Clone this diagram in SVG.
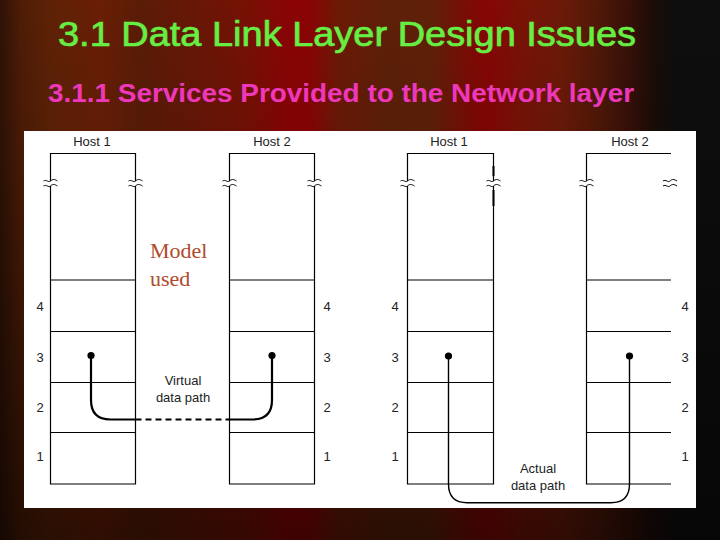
<svg xmlns="http://www.w3.org/2000/svg" xmlns:xlink="http://www.w3.org/1999/xlink" width="720" height="540" viewBox="0 0 720 540">
  <defs>
    <linearGradient id="curtain" gradientUnits="userSpaceOnUse" x1="0" y1="0" x2="720" y2="0">
      <stop offset="0" stop-color="#2e1206"/>
      <stop offset="0.028" stop-color="#4e1c06"/>
      <stop offset="0.07" stop-color="#5e2206"/>
      <stop offset="0.14" stop-color="#6a1e05"/>
      <stop offset="0.195" stop-color="#5a1c06"/>
      <stop offset="0.28" stop-color="#6a1606"/>
      <stop offset="0.335" stop-color="#741204"/>
      <stop offset="0.4" stop-color="#8a0404"/>
      <stop offset="0.43" stop-color="#8a0404"/>
      <stop offset="0.47" stop-color="#6c1a06"/>
      <stop offset="0.54" stop-color="#5e2008"/>
      <stop offset="0.6" stop-color="#602008"/>
      <stop offset="0.655" stop-color="#7e0a04"/>
      <stop offset="0.68" stop-color="#860604"/>
      <stop offset="0.72" stop-color="#7a1206"/>
      <stop offset="0.78" stop-color="#6c1a08"/>
      <stop offset="0.835" stop-color="#4e1808"/>
      <stop offset="0.875" stop-color="#361008"/>
      <stop offset="0.91" stop-color="#1a0c08"/>
      <stop offset="0.94" stop-color="#0e0e0e"/>
      <stop offset="1" stop-color="#0e0e0e"/>
    </linearGradient>
    <linearGradient id="shade" x1="0" y1="0" x2="0" y2="1">
      <stop offset="0" stop-color="#000" stop-opacity="0"/>
      <stop offset="0.25" stop-color="#000" stop-opacity="0.08"/>
      <stop offset="1" stop-color="#000" stop-opacity="0.55"/>
    </linearGradient>
    <path id="brk" d="M-7,-2 C-4,-4 -2,0 0,-2 S4,-4 7,-2 M-7,3 C-4,1 -2,5 0,3 S4,1 7,3"/>
  </defs>
  <style>
    .title { font-family: "Liberation Sans", Arial, sans-serif; font-size: 35px; fill: #66ee44; stroke: #66ee44; stroke-width: 0.7; }
    .sub { font-family: "Liberation Sans", Arial, sans-serif; font-size: 25px; font-weight: bold; fill: #ee38bc; }
    .box { fill: none; stroke: #000; stroke-width: 1.2; }
    .brk { fill: none; stroke: #000; stroke-width: 1; }
    .lbl { font-family: "Liberation Sans", Arial, sans-serif; font-size: 13px; fill: #222; text-anchor: middle; }
    .num { font-family: "Liberation Sans", Arial, sans-serif; font-size: 13px; fill: #222; text-anchor: middle; }
    .model { font-family: "Liberation Serif", "Times New Roman", serif; font-size: 22px; fill: #b04a2c; }
    .dot { fill: #000; }
  </style>

  <rect x="0" y="0" width="720" height="540" fill="url(#curtain)"/>
  <rect x="0" y="0" width="720" height="540" fill="url(#shade)"/>

  <text class="title" x="58" y="46" textLength="578" lengthAdjust="spacingAndGlyphs">3.1 Data Link Layer Design Issues</text>
  <text class="sub" x="48" y="102" textLength="586" lengthAdjust="spacingAndGlyphs">3.1.1 Services Provided to the Network layer</text>

  <rect x="24" y="131" width="672" height="377" fill="#ffffff"/>

  <!-- Model 1: Virtual data path -->
  <g id="host1-left">
    <text class="lbl" x="92" y="146">Host 1</text>
    <path class="box" d="M50.5,181 V153.5 H135.5 V181 M50.5,186 V484 H135.5 V186 M50.5,280 H135.5 M50.5,331.5 H135.5 M50.5,382.5 H135.5 M50.5,432.5 H135.5"/>
    <use href="#brk" xlink:href="#brk" class="brk" x="50.5" y="183"/>
    <use href="#brk" xlink:href="#brk" class="brk" x="135.5" y="183"/>
    <text class="num" x="40" y="311">4</text>
    <text class="num" x="40" y="361.5">3</text>
    <text class="num" x="40" y="412">2</text>
    <text class="num" x="40" y="461">1</text>
    <circle class="dot" cx="91" cy="355.5" r="3.6"/>
  </g>

  <g id="host2-left">
    <text class="lbl" x="272" y="146">Host 2</text>
    <path class="box" d="M229.5,181 V153.5 H314.5 V181 M229.5,186 V484 H314.5 V186 M229.5,280 H314.5 M229.5,331.5 H314.5 M229.5,382.5 H314.5 M229.5,432.5 H314.5"/>
    <use href="#brk" xlink:href="#brk" class="brk" x="229.5" y="183"/>
    <use href="#brk" xlink:href="#brk" class="brk" x="314.5" y="183"/>
    <text class="num" x="327" y="311">4</text>
    <text class="num" x="327" y="361.5">3</text>
    <text class="num" x="327" y="412">2</text>
    <text class="num" x="327" y="461">1</text>
    <circle class="dot" cx="272" cy="355.5" r="3.6"/>
  </g>

  <text class="model" x="150" y="258">Model</text>
  <text class="model" x="150" y="286">used</text>

  <!-- Model 2: Actual data path -->
  <g id="host1-right">
    <text class="lbl" x="449" y="146">Host 1</text>
    <path class="box" d="M407.5,181 V153.5 H493.5 V181 M407.5,186 V484 H493.5 V186 M407.5,280 H493.5 M407.5,331.5 H493.5 M407.5,382.5 H493.5 M407.5,432.5 H493.5"/>
    <path d="M493.5,166 V176 M493.5,190 V206" stroke="#000" stroke-width="2" fill="none"/>
    <use href="#brk" xlink:href="#brk" class="brk" x="407.5" y="183"/>
    <use href="#brk" xlink:href="#brk" class="brk" x="493.5" y="183"/>
    <text class="num" x="395" y="311">4</text>
    <text class="num" x="395" y="361.5">3</text>
    <text class="num" x="395" y="412">2</text>
    <text class="num" x="395" y="461">1</text>
    <circle class="dot" cx="448.5" cy="356" r="3.6"/>
  </g>

  <g id="host2-right">
    <text class="lbl" x="630" y="146">Host 2</text>
    <path class="box" d="M586.5,181 V153.5 H671 M586.5,186 V484 H671 M586.5,280 H671 M586.5,331.5 H671 M586.5,382.5 H671 M586.5,432.5 H671"/>
    <use href="#brk" xlink:href="#brk" class="brk" x="586.5" y="183"/>
    <use href="#brk" xlink:href="#brk" class="brk" x="670" y="183"/>
    <text class="num" x="685" y="311">4</text>
    <text class="num" x="685" y="361.5">3</text>
    <text class="num" x="685" y="412">2</text>
    <text class="num" x="685" y="461">1</text>
    <circle class="dot" cx="629.5" cy="356" r="3.6"/>
  </g>

  <g id="connectors" fill="none" stroke="#000">
    <path d="M91,355.5 V400 Q91,419.5 110.5,419.5 H135.5" stroke-width="2.2"/>
    <path d="M135.5,419.5 H229.5" stroke-width="2.2" stroke-dasharray="6,4"/>
    <path d="M229.5,419.5 H252.5 Q272,419.5 272,400 V355.5" stroke-width="2.2"/>
    <path d="M448.5,356 V484 Q448.5,502.7 467.2,502.7 H610.8 Q629.5,502.7 629.5,484 V356" stroke-width="1.4"/>
  </g>

  <text class="lbl" x="183" y="385">Virtual</text>
  <text class="lbl" x="183" y="401.5">data path</text>
  <text class="lbl" x="538" y="473">Actual</text>
  <text class="lbl" x="538" y="490">data path</text>
</svg>
